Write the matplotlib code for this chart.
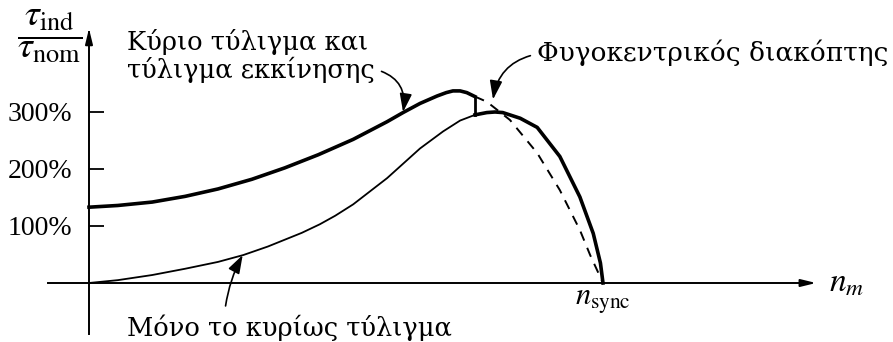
import numpy as np
import matplotlib.pyplot as plt

plt.rcParams['font.family'] = ['Liberation Serif', 'DejaVu Serif']
plt.rcParams['mathtext.fontset'] = 'stix'

# speed as a fraction of n_sync, torque in % of rated torque
# main + starting winding, up to the centrifugal switch
speed_both = [0.0, 0.056, 0.123, 0.187, 0.251, 0.317, 0.381, 0.446, 0.514,
              0.580, 0.611, 0.644, 0.677, 0.695, 0.708, 0.722, 0.735, 0.751]
torque_both = [133, 136, 142, 152, 165, 182, 202, 225, 252,
               283, 299, 315, 328, 334, 337, 337, 334, 327]

# same curve if the switch never opened (dashed)
speed_both_cont = [0.751, 0.774, 0.819, 0.872, 0.916, 0.955, 0.975, 1.0]
torque_both_cont = [327, 318, 286, 228, 163, 93, 49, 0]

# main winding only
speed_main = [0.0, 0.056, 0.123, 0.187, 0.251, 0.300, 0.348, 0.414, 0.449,
              0.479, 0.514, 0.580, 0.644, 0.689, 0.722, 0.751, 0.774, 0.790,
              0.805, 0.839, 0.872, 0.916, 0.955, 0.981, 0.995, 1.0]
torque_main = [0, 5, 14, 25, 37, 49, 64, 88, 103,
               118, 138, 184, 236, 266, 285, 295, 299, 300,
               299, 289, 273, 222, 151, 87, 35, 0]

n_switch = 0.751
ytick_vals = [100, 200, 300]
ytick_labels = ['100%', '200%', '300%']

fig = plt.figure(figsize=(8.93, 3.42), dpi=100)
ax = fig.add_axes([0, 0, 1, 1])
ax.set_xlim(-89 / 514, 804 / 514)
ax.set_ylim(-59 / 57 * 100, 283 / 57 * 100)

speed_main = np.array(speed_main)
torque_main = np.array(torque_main)
before = speed_main <= n_switch
after = speed_main >= n_switch

lw_thick = 2.6
lw_thin = 1.3
ax.plot(speed_both, torque_both, color='black', lw=lw_thick,
        solid_joinstyle='round')
ax.plot([n_switch, n_switch], [torque_both[-1], torque_main[after][0]],
        color='black', lw=2.0)
ax.plot(speed_both_cont, torque_both_cont, color='black', lw=1.4, ls=(0, (5, 4)))
ax.plot(speed_main[before], torque_main[before], color='black', lw=lw_thin,
        solid_joinstyle='round')
ax.plot(speed_main[after], torque_main[after], color='black', lw=lw_thick,
        solid_joinstyle='round')

# axes drawn through the origin, with arrow heads
for side in ['top', 'right']:
    ax.spines[side].set_visible(False)
ax.spines['left'].set_position(('data', 0))
ax.spines['bottom'].set_position(('data', 0))
ax.spines['left'].set_bounds(-89, 440)
ax.spines['bottom'].set_bounds(-0.08, 1.40)
for side in ['left', 'bottom']:
    ax.spines[side].set_linewidth(1.4)
arrow = dict(arrowstyle='-|>,head_length=0.9,head_width=0.22', color='black', lw=1.4)
ax.annotate('', xy=(0, 451), xytext=(0, 420), arrowprops=arrow)
ax.annotate('', xy=(1.42, 0), xytext=(1.38, 0), arrowprops=arrow)

ax.set_yticks(ytick_vals, ytick_labels)
ax.tick_params(axis='y', direction='in', length=11, width=1.3, pad=12, labelsize=20)
ax.set_xticks([1.0], [r'$n_{\mathrm{sync}}$'])
ax.tick_params(axis='x', length=0, pad=3, labelsize=22)

ax.text(-0.076, 433, r'$\dfrac{\tau_{\mathrm{ind}}}{\tau_{\mathrm{nom}}}$',
        fontsize=27, ha='center', va='center')
ax.text(1.44, 0, r'$n_m$', fontsize=24, ha='left', va='center')

greek = ['DejaVu Serif']
note = dict(arrowstyle='-|>,head_length=0.6,head_width=0.2', color='black', lw=1.2)
ax.annotate('Κύριο τύλιγμα και\nτύλιγμα εκκίνησης', xy=(0.611, 300),
            xytext=(0.074, 446), fontsize=18.5, family=greek, ha='left', va='top',
            linespacing=1.08,
            arrowprops=dict(note, connectionstyle='arc3,rad=-0.45',
                            relpos=(1.0, 0.25), shrinkA=3, shrinkB=0))
ax.annotate('Φυγοκεντρικός διακόπτης', xy=(0.786, 322),
            xytext=(0.872, 404), fontsize=19, family=greek, ha='left', va='center',
            arrowprops=dict(note, connectionstyle='arc3,rad=0.35',
                            relpos=(0.0, 0.45), shrinkA=3, shrinkB=0))
ax.annotate('Μόνο το κυρίως τύλιγμα', xy=(0.299, 49),
            xytext=(0.074, -78), fontsize=18.5, family=greek, ha='left', va='center',
            arrowprops=dict(note, connectionstyle='arc3,rad=-0.1',
                            relpos=(0.3, 1.0), shrinkA=4, shrinkB=0))

fig.savefig('out.png', dpi=100)
